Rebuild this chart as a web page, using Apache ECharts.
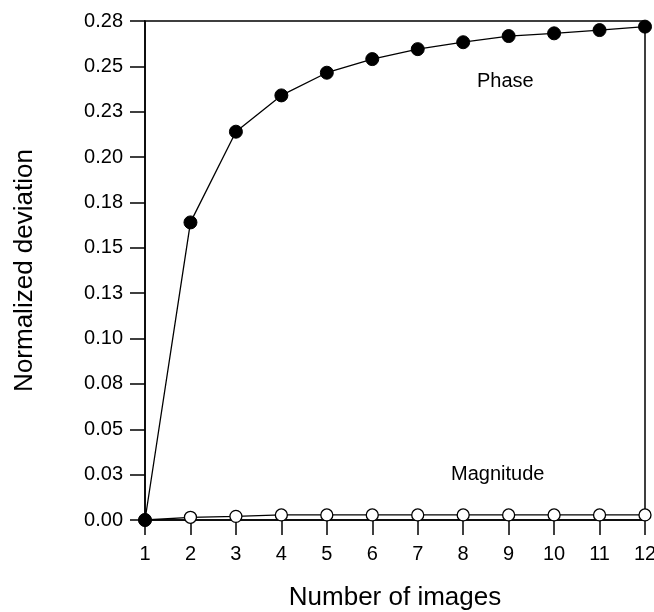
<!DOCTYPE html>
<html>
<head>
<meta charset="utf-8">
<script src="https://cdn.jsdelivr.net/npm/echarts@6/dist/echarts.min.js"></script>
<style>
  html, body { margin: 0; padding: 0; background: #fff; }
  #main { width: 654px; height: 612px; }
</style>
</head>
<body>
<div id="main"></div>
<script>
var images = [1, 2, 3, 4, 5, 6, 7, 8, 9, 10, 11, 12];
var phase = [0, 0.164, 0.214, 0.234, 0.2465, 0.254, 0.2595, 0.2633, 0.2667, 0.2682, 0.270, 0.2719];
var magnitude = [0, 0.0015, 0.002, 0.0028, 0.0028, 0.0028, 0.0028, 0.0028, 0.0028, 0.0028, 0.0028, 0.0028];
var yTickLabels = ['0.00', '0.03', '0.05', '0.08', '0.10', '0.13', '0.15', '0.18', '0.20', '0.23', '0.25', '0.28'];

var chartDom = document.getElementById('main');
var myChart = echarts.init(chartDom);
var font = '"Liberation Sans", Arial, sans-serif';

function pairs(ys) {
    return images.map(function (x, i) { return [x, ys[i]]; });
}

var option = {
    animation: false,
    backgroundColor: '#fff',
    textStyle: { fontFamily: font, color: '#000' },
    grid: {
        left: 145, right: 9, top: 21, bottom: 92,
        outerBoundsMode: 'none',
        containLabel: false,
        show: true, borderColor: '#000', borderWidth: 1.5
    },
    xAxis: {
        type: 'value',
        min: 1, max: 12, interval: 1,
        name: 'Number of images',
        nameLocation: 'middle',
        nameGap: 65,
        nameTextStyle: { fontSize: 26, fontFamily: font, color: '#000' },
        axisLine: { lineStyle: { color: '#000', width: 1.5 } },
        axisTick: { inside: false, length: 15, lineStyle: { color: '#000', width: 1.5 } },
        axisLabel: { fontSize: 20, margin: 24, color: '#000', fontFamily: font },
        splitLine: { show: false }
    },
    yAxis: {
        type: 'value',
        min: 0, max: 0.275, interval: 0.025,
        name: 'Normalized deviation',
        nameLocation: 'middle',
        nameGap: 107,
        nameTextStyle: { fontSize: 26, fontFamily: font, color: '#000' },
        axisLine: { show: true, lineStyle: { color: '#000', width: 1.5 } },
        axisTick: { show: true, inside: false, length: 15, lineStyle: { color: '#000', width: 1.5 } },
        axisLabel: {
            fontSize: 20, margin: 22, color: '#000', fontFamily: font,
            formatter: function (v) { return yTickLabels[Math.round(v / 0.025)]; }
        },
        splitLine: { show: false }
    },
    graphic: [
        { type: 'text', left: 477, top: 71, style: { text: 'Phase', font: '20px ' + font, fill: '#000' } },
        { type: 'text', left: 451, top: 464, style: { text: 'Magnitude', font: '20px ' + font, fill: '#000' } }
    ],
    series: [
        {
            name: 'Magnitude',
            type: 'line',
            data: pairs(magnitude),
            symbol: 'circle',
            symbolSize: 12,
            itemStyle: { color: '#fff', borderColor: '#000', borderWidth: 1.3 },
            lineStyle: { color: '#000', width: 1.3 },
            z: 2
        },
        {
            name: 'Phase',
            type: 'line',
            data: pairs(phase),
            symbol: 'circle',
            symbolSize: 13,
            itemStyle: { color: '#000', borderColor: '#000', borderWidth: 1 },
            lineStyle: { color: '#000', width: 1.3 },
            z: 3
        }
    ]
};

option && myChart.setOption(option);
</script>
</body>
</html>
